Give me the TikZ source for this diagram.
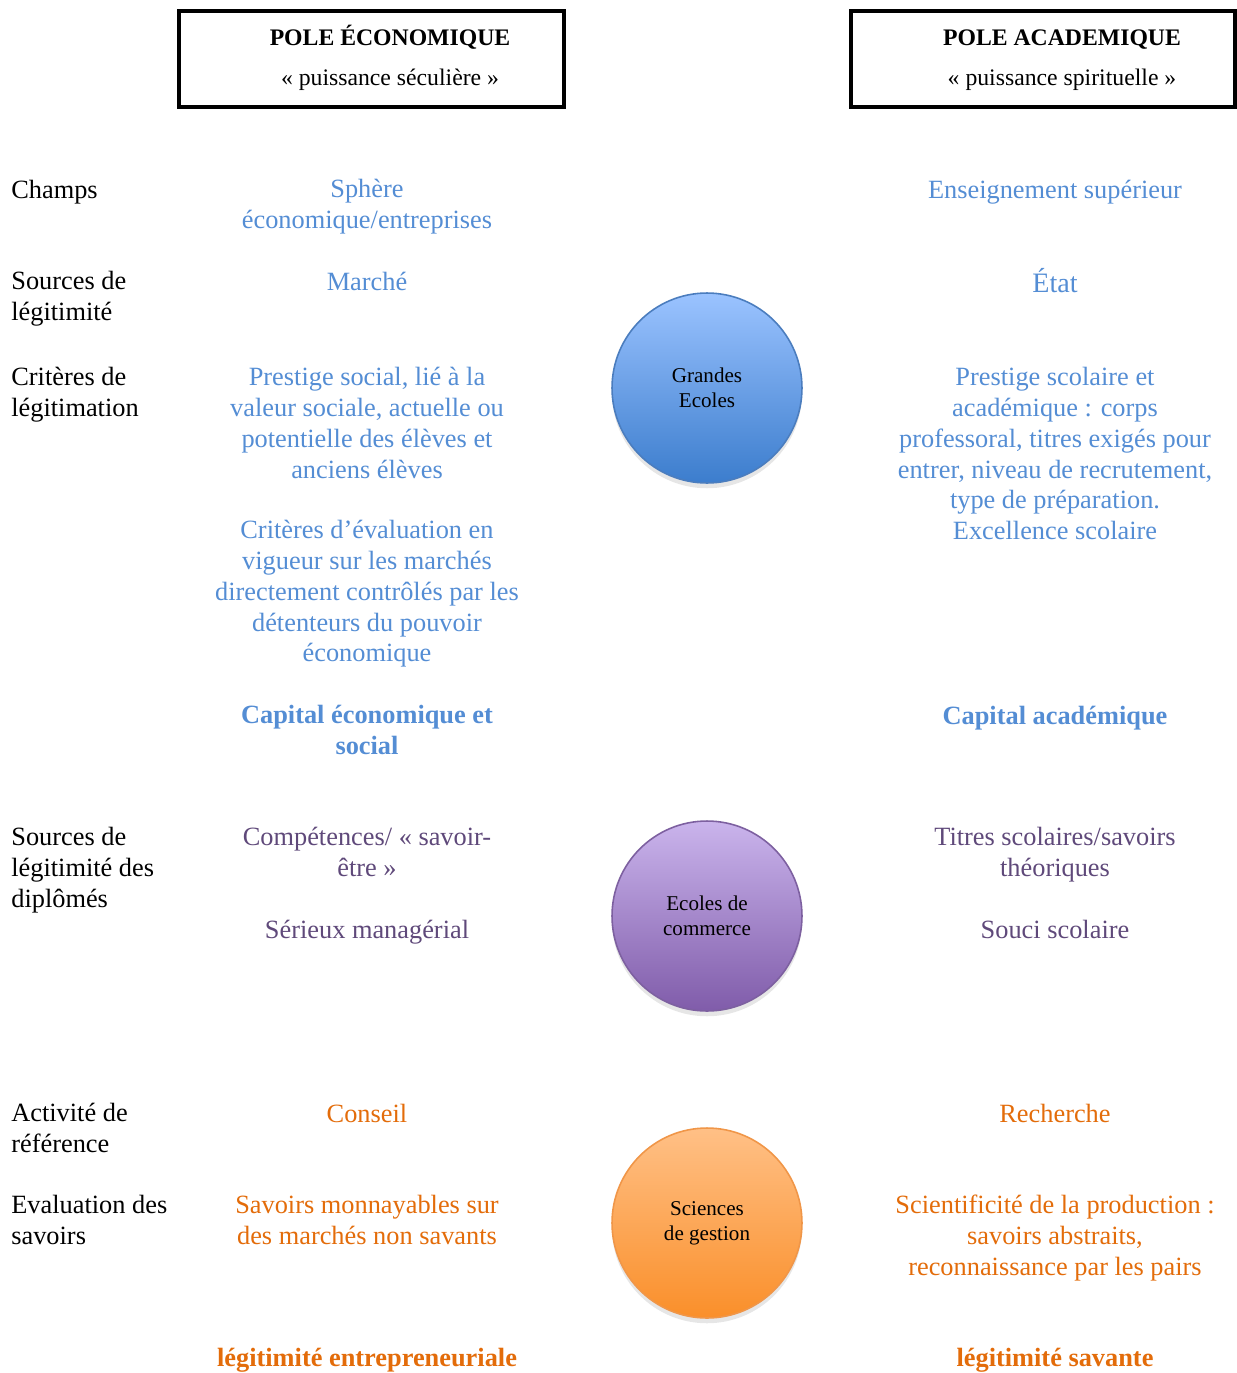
\documentclass[tikz,border=0pt]{standalone}
\usepackage{fontspec}
\setmainfont{Liberation Serif}
\usetikzlibrary{shadows}
\definecolor{txtblue}{RGB}{84,141,212}
\definecolor{txtpurple}{RGB}{95,73,122}
\definecolor{txtorange}{RGB}{227,108,10}
\definecolor{geTop}{RGB}{155,195,255}
\definecolor{geBot}{RGB}{60,125,205}
\definecolor{geLine}{RGB}{75,125,190}
\definecolor{ecTop}{RGB}{202,180,236}
\definecolor{ecBot}{RGB}{128,92,170}
\definecolor{ecLine}{RGB}{125,96,160}
\definecolor{sgTop}{RGB}{255,192,134}
\definecolor{sgBot}{RGB}{250,143,42}
\definecolor{sgLine}{RGB}{240,150,72}
\begin{document}
\begin{tikzpicture}[x=0.02cm,y=-0.02cm,
    every node/.style={inner sep=0pt,font=\fontsize{15}{17.5}\selectfont},
    lbl/.style={anchor=base west,align=left},
    col/.style={anchor=base,align=center},
    polebox/.style={draw,line width=2.3pt,minimum width=7.7cm,minimum height=1.92cm},
    poletitle/.style={anchor=base,font=\fontsize{13.5}{16}\selectfont\bfseries},
    polesub/.style={anchor=base,font=\fontsize{13.5}{16}\selectfont},
    school/.style={circle,line width=0.9pt,minimum size=3.8cm,align=center,
      font=\fontsize{12}{14.2}\selectfont,
      drop shadow={opacity=0.2,shadow xshift=0pt,shadow yshift=-3pt}}]
  \useasboundingbox (0,0) rectangle (1237,1373);
  \node[polebox] (ecobox) at (371.5,59) {};
  \node[poletitle] (ecotitle) at (390,45) {POLE ÉCONOMIQUE};
  \node[polesub] (ecosub) at (390,85) {« puissance séculière »};
  \node[polebox,minimum width=7.68cm] (acabox) at (1043,59) {};
  \node[poletitle] (acatitle) at (1062,45) {POLE ACADEMIQUE};
  \node[polesub] (acasub) at (1062,85) {« puissance spirituelle »};

  \node[lbl] (champs) at (11,198) {Champs};
  \node[lbl] (sources) at (11,320.7) {Sources de\\légitimité};
  \node[lbl] (criteres) at (11,416.7) {Critères de\\légitimation};
  \node[lbl] (diplomes) at (11,907.4) {Sources de\\légitimité des\\diplômés};
  \node[lbl] (activite) at (11,1152.7) {Activité de\\référence};
  \node[lbl] (evaluation) at (11,1244.7) {Evaluation des\\savoirs};

  \begin{scope}[txtblue]
    \node[col] (sphere) at (367,228.7) {Sphère\\économique/entreprises};
    \node[col] (marche) at (367,290) {Marché};
    \node[col] (prestsoc) at (367,478.1) {Prestige social, lié à la\\valeur sociale, actuelle ou\\potentielle des élèves et\\anciens élèves};
    \node[col] (critmarche) at (367,661.8) {Critères d’évaluation en\\vigueur sur les marchés\\directement contrôlés par les\\détenteurs du pouvoir\\économique};
    \node[col,font=\fontsize{15}{17.5}\selectfont\bfseries] (capeco) at (367,754.7) {Capital économique et\\social};
    \node[col] (enseign) at (1055,198) {Enseignement supérieur};
    \node[col,font=\fontsize{16}{18}\selectfont] (etat) at (1055,292) {État};
    \node[col] (prestsco) at (1055,539.5) {Prestige scolaire et\\académique : corps\\professoral, titres exigés pour\\entrer, niveau de recrutement,\\type de préparation.\\Excellence scolaire};
    \node[col,font=\fontsize{15}{17.5}\selectfont\bfseries] (capaca) at (1055,724) {Capital académique};
  \end{scope}

  \begin{scope}[txtpurple]
    \node[col] (compet) at (367,876.7) {Compétences/ « savoir-\\être »};
    \node[col] (serieux) at (367,938) {Sérieux managérial};
    \node[col] (titres) at (1055,876.7) {Titres scolaires/savoirs\\théoriques};
    \node[col] (souci) at (1055,938) {Souci scolaire};
  \end{scope}

  \begin{scope}[txtorange]
    \node[col] (conseil) at (367,1122) {Conseil};
    \node[col] (monnay) at (367,1244.7) {Savoirs monnayables sur\\des marchés non savants};
    \node[col,font=\fontsize{15}{17.5}\selectfont\bfseries] (legent) at (367,1366) {légitimité entrepreneuriale};
    \node[col] (recherche) at (1055,1122) {Recherche};
    \node[col] (scient) at (1055,1275.4) {Scientificité de la production :\\savoirs abstraits,\\reconnaissance par les pairs};
    \node[col,font=\fontsize{15}{17.5}\selectfont\bfseries] (legsav) at (1055,1366) {légitimité savante};
  \end{scope}

  \node[school,draw=geLine,top color=geTop,bottom color=geBot] (ge) at (707,388) {Grandes\\Ecoles};
  \node[school,draw=ecLine,top color=ecTop,bottom color=ecBot] (ec) at (707,916) {Ecoles de\\commerce};
  \node[school,draw=sgLine,top color=sgTop,bottom color=sgBot] (sg) at (707,1223) {Sciences\\de gestion};
\end{tikzpicture}
\end{document}
